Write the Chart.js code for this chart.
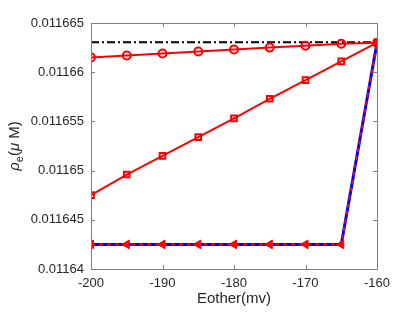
<!DOCTYPE html>
<html>
<head>
<meta charset="utf-8">
<script src="https://cdn.jsdelivr.net/npm/chart.js@4"></script>
<style>
  html, body { margin: 0; padding: 0; background: #fff; }
  #wrap { width: 415px; height: 312px; }
</style>
</head>
<body>
<div id="wrap"><canvas id="myChart" width="415" height="312"></canvas></div>
<script>
// data
const eother = [-200, -195, -190, -185, -180, -175, -170, -165, -160];
const refLine = [0.01166304, 0.01166304, 0.01166304, 0.01166304, 0.01166304, 0.01166304, 0.01166304, 0.01166304, 0.01166304];
const circleVals = [0.0116615, 0.0116617, 0.0116619, 0.0116621, 0.0116623, 0.0116625, 0.0116627, 0.0116629, 0.011663];
const squareVals = [0.0116475, 0.0116496, 0.0116515, 0.0116534, 0.0116553, 0.0116573, 0.0116592, 0.0116611, 0.011663];
const triVals = [0.0116425, 0.0116425, 0.0116425, 0.0116425, 0.0116425, 0.0116425, 0.0116425, 0.0116425, 0.011663];
const xTicks = [-200, -190, -180, -170, -160];
const yTicks = [0.01164, 0.011645, 0.01165, 0.011655, 0.01166, 0.011665];

const axisColor = '#262626';
const font = 'Liberation Sans, Arial, sans-serif';

function pts(ys) {
  return eother.map((x, i) => ({ x: x, y: ys[i] }));
}

// matlab style box with inward ticks on all four sides
const boxPlugin = {
  id: 'box',
  afterDatasetsDraw(chart) {
    const ctx = chart.ctx;
    const a = chart.chartArea;
    const xs = chart.scales.x, ys = chart.scales.y;
    ctx.save();
    ctx.strokeStyle = '#808080';
    ctx.lineWidth = 1;
    ctx.strokeRect(a.left + 0.5, a.top + 0.5, a.right - a.left, a.bottom - a.top);
    ctx.beginPath();
    xTicks.forEach(t => {
      const px = Math.round(xs.getPixelForValue(t)) + 0.5;
      ctx.moveTo(px, a.bottom); ctx.lineTo(px, a.bottom - 4);
      ctx.moveTo(px, a.top); ctx.lineTo(px, a.top + 4);
    });
    yTicks.forEach(t => {
      const py = Math.round(ys.getPixelForValue(t)) + 0.5;
      ctx.moveTo(a.left, py); ctx.lineTo(a.left + 4, py);
      ctx.moveTo(a.right, py); ctx.lineTo(a.right - 4, py);
    });
    ctx.stroke();
    ctx.restore();
  },
  afterDraw(chart) {
    // y axis title: rho_e (mu M)
    const ctx = chart.ctx;
    const a = chart.chartArea;
    ctx.save();
    ctx.translate(19, (a.top + a.bottom) / 2);
    ctx.rotate(-Math.PI / 2);
    ctx.fillStyle = axisColor;
    ctx.textBaseline = 'alphabetic';
    const parts = [
      { t: 'ρ', f: 'italic 15px ' + font, dy: 0 },
      { t: 'e', f: '11px ' + font, dy: 4 },
      { t: '(', f: '15px ' + font, dy: 0 },
      { t: 'μ', f: 'italic 15px ' + font, dy: 0 },
      { t: ' M)', f: '15px ' + font, dy: 0 }
    ];
    let w = 0;
    parts.forEach(p => { ctx.font = p.f; w += ctx.measureText(p.t).width; });
    let x = -w / 2;
    parts.forEach(p => {
      ctx.font = p.f;
      ctx.fillText(p.t, x, p.dy);
      x += ctx.measureText(p.t).width;
    });
    ctx.restore();
  }
};

const config = {
  type: 'line',
  data: {
    datasets: [
      {
        data: pts(refLine),
        borderColor: '#000',
        borderWidth: 2,
        borderDash: [8, 3, 2, 3],
        pointRadius: 0,
        order: 5
      },
      {
        data: pts(circleVals),
        borderColor: '#ff0000',
        borderWidth: 2,
        pointStyle: 'circle',
        pointRadius: 4,
        pointBorderWidth: 2,
        pointBackgroundColor: 'rgba(255,255,255,0)',
        pointBorderColor: '#ff0000',
        order: 4
      },
      {
        data: pts(squareVals),
        borderColor: '#ff0000',
        borderWidth: 2,
        pointStyle: 'rect',
        pointRadius: 4,
        pointBorderWidth: 2,
        pointBackgroundColor: 'rgba(255,255,255,0)',
        pointBorderColor: '#ff0000',
        order: 3
      },
      {
        data: pts(triVals),
        borderColor: '#0000ff',
        borderWidth: 3,
        pointRadius: 0,
        order: 2
      },
      {
        data: pts(triVals),
        borderColor: '#ff0000',
        borderWidth: 2,
        borderDash: [4, 4],
        pointStyle: 'triangle',
        pointRotation: -90,
        pointRadius: 5,
        pointBorderWidth: 1,
        pointBackgroundColor: '#ff0000',
        pointBorderColor: '#ff0000',
        order: 1
      }
    ]
  },
  options: {
    responsive: false,
    animation: false,
    layout: { padding: { top: 23, right: 38, left: 0, bottom: 0 } },
    plugins: { legend: { display: false }, tooltip: { enabled: false } },
    scales: {
      x: {
        type: 'linear',
        min: -200,
        max: -160,
        afterBuildTicks: s => { s.ticks = xTicks.map(v => ({ value: v })); },
        afterFit: s => { s.height = 43; },
        grid: { display: false, drawTicks: false },
        border: { display: false },
        ticks: { color: axisColor, font: { family: font, size: 13 }, padding: 7, maxRotation: 0 },
        title: { display: true, text: 'Eother(mv)', color: axisColor, font: { family: font, size: 15 }, padding: { top: 1 } }
      },
      y: {
        min: 0.01164,
        max: 0.011665,
        afterBuildTicks: s => { s.ticks = yTicks.map(v => ({ value: v })); },
        afterFit: s => { s.width = 91; },
        grid: { display: false, drawTicks: false },
        border: { display: false },
        ticks: {
          color: axisColor,
          font: { family: font, size: 13 },
          padding: 7,
          callback: v => String(Number(v.toFixed(6)))
        }
      }
    }
  },
  plugins: [boxPlugin]
};

new Chart(document.getElementById('myChart'), config);
</script>
</body>
</html>
